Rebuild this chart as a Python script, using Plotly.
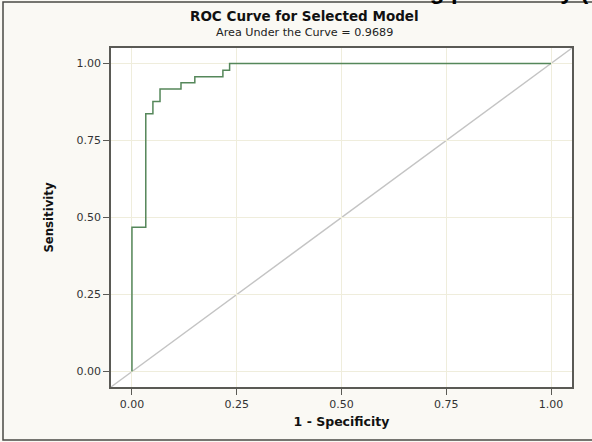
"""ROC curve for the selected model, SAS-style."""

import plotly.graph_objects as go

# ROC step points (1 - specificity, sensitivity)
fpr = [0.0, 0.0, 0.033, 0.05, 0.067, 0.117, 0.15, 0.217, 0.233, 1.0]
tpr = [0.0, 0.468, 0.837, 0.876, 0.917, 0.937, 0.957, 0.978, 1.0, 1.0]

tick_vals = [0.0, 0.25, 0.5, 0.75, 1.0]
tick_text = ['0.00', '0.25', '0.50', '0.75', '1.00']

auc = 0.9689
title_text = 'ROC Curve for Selected Model'
subtitle_text = f'Area Under the Curve = {auc:.4f}'
page_title = 'Modeling probability ('

PAPER_BG = '#FAF9F4'
FRAME = '#5a5a55'
GRID = '#EFEDDC'
FONT = 'Liberation Sans, Arial, sans-serif'
WIDE = 'DejaVu Sans, Verdana, sans-serif'
NARROW = 'Liberation Sans Narrow, DejaVu Sans Condensed, Arial Narrow, sans-serif'

fig = go.Figure()

# chance diagonal across the full plot area
fig.add_shape(
    type='line', xref='x domain', yref='y domain',
    x0=0, y0=0, x1=1, y1=1,
    line=dict(color='#C4C4C4', width=1.5), layer='below'
)

fig.add_trace(go.Scatter(
    x=fpr, y=tpr,
    mode='lines',
    line=dict(color='#55875A', width=1.5, shape='hv'),
    showlegend=False,
    hovertemplate='1-Spec: %{x:.3f}<br>Sens: %{y:.3f}<extra></extra>'
))

axis_style = dict(
    range=[-0.05, 1.05],
    tickvals=tick_vals,
    ticktext=tick_text,
    ticks='outside',
    ticklen=6,
    tickcolor=FRAME,
    tickfont=dict(family=WIDE, size=11, color='#333333'),
    showgrid=True,
    gridcolor=GRID,
    gridwidth=1,
    zeroline=False,
    showline=True,
    linecolor=FRAME,
    linewidth=1.5,
    mirror=True,
)

fig.update_xaxes(
    **axis_style,
    title=dict(text='<b>1 - Specificity</b>', font=dict(family=WIDE, size=12.5, color='#111111'),
               standoff=7),
)
fig.update_yaxes(
    **axis_style,
    title=dict(text='<b>Sensitivity</b>', font=dict(family=NARROW, size=13, color='#111111'),
               standoff=20),
)

# plot area spans roughly x 111-572, y 48-387 of the 592x442 page
W, H = 592, 442
L, R, T, B = 111, 20, 48, 55
pw, ph = W - L - R, H - T - B


def px_to_paper(x, y):
    return (x - L) / pw, (H - B - y) / ph


# outer frame (left, top, bottom edges)
bx0, by0 = px_to_paper(3, 440)
bx1, by1 = px_to_paper(600, 2)
fig.add_shape(type='rect', xref='paper', yref='paper',
              x0=bx0, y0=by0, x1=bx1, y1=by1,
              line=dict(color='#4a4a44', width=1.5), layer='below')

cx, ty = px_to_paper(W / 2 + 8, 16.5)
_, sy = px_to_paper(0, 32)
fig.add_annotation(text=f'<b>{title_text}</b>', x=cx, y=ty, xref='paper', yref='paper',
                   showarrow=False, yanchor='middle',
                   font=dict(family=WIDE, size=13.5, color='#111111'))
fig.add_annotation(text=subtitle_text, x=cx, y=sy, xref='paper', yref='paper',
                   showarrow=False, yanchor='middle',
                   font=dict(family=WIDE, size=11.2, color='#222222'))

# page heading cut off at the top edge
hx, hy = px_to_paper(590, 6)
fig.add_annotation(text=f'<b>{page_title}</b>', x=hx, y=hy, xref='paper', yref='paper',
                   showarrow=False, xanchor='right', yanchor='bottom',
                   font=dict(family=FONT, size=24, color='#000000'))

fig.update_layout(
    width=W, height=H,
    margin=dict(l=L, r=R, t=T, b=B),
    paper_bgcolor=PAPER_BG,
    plot_bgcolor='white',
    font=dict(family=FONT),
)

# drop the default body margin so the figure sits at the page corner
fig.write_html('out.html', config={'displayModeBar': False},
               post_script="document.body.style.margin='0';")
